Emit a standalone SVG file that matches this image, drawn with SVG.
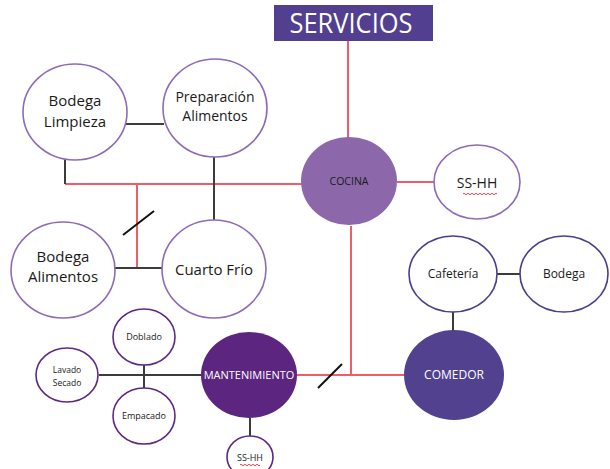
<svg xmlns="http://www.w3.org/2000/svg" width="610" height="469" viewBox="0 0 610 469">
<style>
text{font-family:"Open Sans","Noto Sans","Liberation Sans",sans-serif;text-anchor:middle;fill:#1a1a1a}
.lt{fill:#fff;stroke:#8d6cb4;stroke-width:1.6}
.db{fill:#fff;stroke:#4a3d8f;stroke-width:1.6}
.dp{fill:#fff;stroke:#5c2a85;stroke-width:1.6}
.red{stroke:#ef5d68;stroke-width:2;fill:none}
.gr{stroke:#3c3c3c;stroke-width:2;fill:none}
.sl{stroke:#111;stroke-width:2;fill:none}
.sq{stroke:#e0303a;stroke-width:0.9;fill:none}
.w{fill:#fff}
</style>
<rect width="610" height="469" fill="#fff"/>
<g id="connectors">
<path class="red" d="M348 41V138"/>
<path class="red" d="M65 184H302"/>
<path class="red" d="M397 182H435"/>
<path class="red" d="M137 184V268"/>
<path class="red" d="M351 226V375"/>
<path class="red" d="M297 375H405"/>
<path class="gr" d="M117 124H164"/>
<path class="gr" d="M65 153V184"/>
<path class="gr" d="M214 157V221"/>
<path class="gr" d="M115 268H162"/>
<path class="gr" d="M497 274H521"/>
<path class="gr" d="M453 312V331"/>
<path class="gr" d="M99 375H201"/>
<path class="gr" d="M144 365V388"/>
<path class="gr" d="M250 418V437"/>
<path class="sl" d="M123 235L154 211"/>
<path class="sl" d="M318 388L342 364"/>
</g>
<g id="servicios">
<rect x="274" y="5" width="159" height="36" fill="#523f8f"/>
<text x="351" y="33" font-size="27" class="w" textLength="123" lengthAdjust="spacingAndGlyphs">SERVICIOS</text>
</g>
<g id="bodega-limpieza">
<ellipse class="lt" cx="75" cy="112" rx="52" ry="48"/>
<text x="75" y="106" font-size="15">Bodega</text>
<text x="75" y="127" font-size="15">Limpieza</text>
</g>
<g id="preparacion">
<ellipse class="lt" cx="215" cy="108" rx="52" ry="49"/>
<text x="215" y="102" font-size="14">Preparación</text>
<text x="215" y="121" font-size="14">Alimentos</text>
</g>
<g id="cocina">
<ellipse cx="349" cy="181" rx="48" ry="44" fill="#8c68aa"/>
<text x="349" y="185" font-size="10.5" fill="#333">COCINA</text>
</g>
<g id="sshh-cocina">
<ellipse class="lt" cx="477" cy="182" rx="43" ry="37"/>
<text x="477" y="188" font-size="14">SS-HH</text>
<path class="sq" d="M463 194q1-1.5 2 0t2 0t2 0t2 0t2 0t2 0t2 0t2 0t2 0t2 0t2 0t2 0t2 0t2 0t2 0t2 0t2 0"/>
</g>
<g id="bodega-alimentos">
<ellipse class="lt" cx="63" cy="270" rx="52" ry="48"/>
<text x="63" y="262" font-size="15">Bodega</text>
<text x="63" y="282" font-size="15">Alimentos</text>
</g>
<g id="cuarto-frio">
<ellipse class="lt" cx="214" cy="269" rx="52" ry="49"/>
<text x="214" y="275" font-size="15">Cuarto Frío</text>
</g>
<g id="cafeteria">
<ellipse class="db" cx="453" cy="274" rx="44" ry="38"/>
<text x="453" y="278" font-size="12">Cafetería</text>
</g>
<g id="bodega">
<ellipse class="db" cx="564" cy="274" rx="44" ry="38"/>
<text x="564" y="278" font-size="12">Bodega</text>
</g>
<g id="comedor">
<ellipse cx="454" cy="375" rx="50" ry="45" fill="#51418f"/>
<text x="454" y="379" font-size="12" class="w">COMEDOR</text>
</g>
<g id="mantenimiento">
<ellipse cx="249" cy="375" rx="48" ry="43" fill="#5b2580"/>
<text x="249" y="379" font-size="11" class="w">MANTENIMIENTO</text>
</g>
<g id="lavado">
<ellipse class="dp" cx="67" cy="375" rx="31" ry="27"/>
<text x="67" y="373" font-size="8.5">Lavado</text>
<text x="67" y="386" font-size="8.5">Secado</text>
</g>
<g id="doblado">
<ellipse class="dp" cx="144" cy="337" rx="31" ry="28"/>
<text x="144" y="340" font-size="9">Doblado</text>
</g>
<g id="empacado">
<ellipse class="dp" cx="144" cy="416" rx="31" ry="28"/>
<text x="144" y="419" font-size="9">Empacado</text>
</g>
<g id="sshh-mant">
<ellipse class="dp" cx="250" cy="457" rx="23" ry="21"/>
<text x="250" y="461" font-size="9">SS-HH</text>
<path class="sq" d="M240 465q1-1.5 2 0t2 0t2 0t2 0t2 0t2 0t2 0t2 0t2 0t2 0"/>
</g>
</svg>
